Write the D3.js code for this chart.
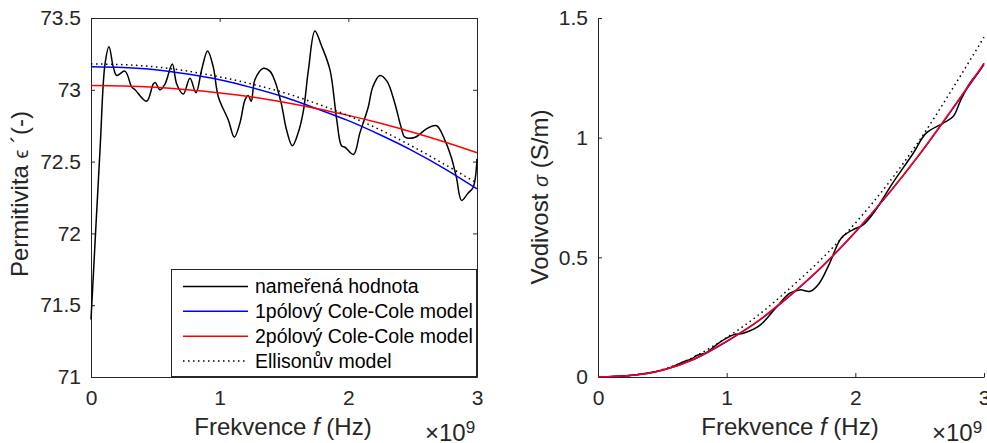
<!DOCTYPE html>
<html>
<head>
<meta charset="utf-8">
<script src="https://cdn.jsdelivr.net/npm/d3@7"></script>
<style>
  body { margin: 0; background: #fff; }
  svg { font-family: "Liberation Sans", Arial, sans-serif; }
  .axis text { font-family: "Liberation Sans", Arial, sans-serif; font-size: 21px; fill: #262626; }
  .axis path, .axis line { stroke: #262626; }
  .label { font-size: 24px; fill: #262626; }
  .legend text { font-size: 19.5px; fill: #000; }
</style>
</head>
<body>
<svg id="chart" width="987" height="443"></svg>
<script>
// frequency in units of 1e9 Hz
const freqTicks = [0, 1, 2, 3]
const freqTickLabels = ["0", "1", "2", "3"]
const epsTicks = [71, 71.5, 72, 72.5, 73, 73.5]
const epsTickLabels = ["71", "71.5", "72", "72.5", "73", "73.5"]
const sigmaTicks = [0, 0.5, 1, 1.5]
const sigmaTickLabels = ["0", "0.5", "1", "1.5"]

const seriesNames = ["nameřená hodnota", "1pólový Cole-Cole model", "2pólový Cole-Cole model", "Ellisonův model"]

const fEpsMeas = [0, 0.07, 0.109, 0.14, 0.173, 0.2, 0.264, 0.316, 0.342, 0.432, 0.484, 0.5, 0.536, 0.575,
  0.632, 0.666, 0.717, 0.769, 0.816, 0.86, 0.906, 0.95, 0.99, 1.067, 1.114, 1.158, 1.197, 1.222, 1.245,
  1.274, 1.34, 1.39, 1.43, 1.48, 1.52, 1.565, 1.61, 1.65, 1.69, 1.74, 1.79, 1.857, 1.91, 1.947, 1.974,
  2.04, 2.09, 2.155, 2.19, 2.245, 2.3, 2.36, 2.41, 2.44, 2.52, 2.61, 2.686, 2.75, 2.8, 2.84, 2.88, 2.93,
  2.97, 3.0]
const epsMeas = [71.40, 72.58, 73.18, 73.30, 73.16, 73.10, 73.13, 73.02, 73.00, 72.92, 73.04, 73.05, 73.00, 73.04,
  73.18, 73.04, 72.97, 73.08, 72.98, 73.14, 73.27, 73.16, 72.95, 72.79, 72.67, 72.77, 72.93, 72.96, 72.92,
  73.07, 73.15, 73.13, 73.06, 72.90, 72.72, 72.61, 72.70, 72.85, 73.14, 73.41, 73.31, 73.14, 72.79, 72.61, 72.60,
  72.55, 72.70, 72.88, 73.02, 73.10, 73.06, 72.91, 72.74, 72.67, 72.67, 72.73, 72.75, 72.65, 72.53, 72.39, 72.23, 72.28,
  72.32, 72.52]

// model curves
const fModel = [0, 0.25, 0.5, 0.75, 1, 1.25, 1.5, 1.75, 2, 2.25, 2.5, 2.75, 3]
const eps1Pole = [73.16, 73.155, 73.14, 73.11, 73.07, 73.015, 72.95, 72.87, 72.785, 72.685, 72.575, 72.45, 72.31]
const eps2Pole = [73.03, 73.027, 73.017, 73.0, 72.978, 72.95, 72.913, 72.87, 72.822, 72.767, 72.705, 72.637, 72.562]
const epsEllison = [73.18, 73.175, 73.16, 73.13, 73.09, 73.04, 72.98, 72.905, 72.82, 72.72, 72.605, 72.48, 72.35]

// measured conductivity
const fSigMeas = [0, 0.2, 0.4, 0.55, 0.676, 0.728, 0.767, 0.845, 0.935, 1.05, 1.13, 1.26, 1.39, 1.49, 1.57,
  1.65, 1.72, 1.8, 1.89, 1.98, 2.06, 2.14, 2.29, 2.45, 2.55, 2.68, 2.76, 2.82, 2.89, 2.97, 3.0]
const sigmaMeas = [0, 0.004, 0.018, 0.037, 0.066, 0.076, 0.09, 0.103, 0.141, 0.176, 0.183, 0.217, 0.294, 0.35, 0.364,
  0.358, 0.392, 0.475, 0.58, 0.615, 0.635, 0.684, 0.81, 0.935, 1.019, 1.06, 1.088, 1.158, 1.228, 1.283, 1.311]
const sigma1Pole = [0, 0.006, 0.028, 0.075, 0.148, 0.235, 0.343, 0.465, 0.605, 0.76, 0.93, 1.115, 1.305]
const sigma2Pole = [0, 0.006, 0.028, 0.075, 0.15, 0.237, 0.345, 0.467, 0.607, 0.762, 0.932, 1.118, 1.31]
const sigmaEllison = [0, 0.007, 0.031, 0.085, 0.165, 0.26, 0.375, 0.5, 0.643, 0.805, 0.99, 1.2, 1.42]

const svg = d3.select("#chart")
const top_ = 18, bottom = 377

var xL = d3.scaleLinear().domain([0, 3]).range([91, 477])
var yL = d3.scaleLinear().domain([71, 73.5]).range([bottom, top_])
var xR = d3.scaleLinear().domain([0, 3]).range([598, 984])
var yR = d3.scaleLinear().domain([0, 1.5]).range([bottom, top_])

function lookup(ticks, labels) {
  return d => labels[ticks.indexOf(d)]
}

function drawAxes(x, y, yTicks, yLabels, box) {
  svg.append("g").attr("class", "axis")
      .attr("transform", "translate(0," + bottom + ")")
      .call(d3.axisBottom(x).tickValues(freqTicks).tickFormat(lookup(freqTicks, freqTickLabels))
        .tickSizeInner(-4).tickSizeOuter(0).tickPadding(13))
  svg.append("g").attr("class", "axis")
      .attr("transform", "translate(" + x.range()[0] + ",0)")
      .call(d3.axisLeft(y).tickValues(yTicks).tickFormat(lookup(yTicks, yLabels))
        .tickSizeInner(-4).tickSizeOuter(0).tickPadding(10))
  if (box) {
    svg.append("g").attr("class", "axis")
        .attr("transform", "translate(0," + top_ + ")")
        .call(d3.axisTop(x).tickValues(freqTicks).tickFormat("").tickSizeInner(-4).tickSizeOuter(0))
    svg.append("g").attr("class", "axis")
        .attr("transform", "translate(" + x.range()[1] + ",0)")
        .call(d3.axisRight(y).tickValues(yTicks).tickFormat("").tickSizeInner(-4).tickSizeOuter(0))
  }
  svg.selectAll(".axis").attr("font-family", null).attr("font-size", null)
}

function drawSeries(x, y, fs, vs, color, dotted, curve) {
  var line = d3.line()
    .x((d, i) => x(fs[i]))
    .y(d => y(d))
    .curve(curve)
  svg.append("path")
    .datum(vs)
    .attr("d", line)
    .attr("fill", "none")
    .attr("stroke", color)
    .attr("stroke-width", 1.5)
    .attr("stroke-dasharray", dotted ? "1.5,3.5" : null)
}

// left panel: permittivity
drawAxes(xL, yL, epsTicks, epsTickLabels, true)
drawSeries(xL, yL, fEpsMeas, epsMeas, "#000", false, d3.curveCatmullRom.alpha(0.5))
drawSeries(xL, yL, fModel, eps1Pole, "#0000ff", false, d3.curveMonotoneX)
drawSeries(xL, yL, fModel, eps2Pole, "#ff0000", false, d3.curveMonotoneX)
drawSeries(xL, yL, fModel, epsEllison, "#000", true, d3.curveMonotoneX)

// right panel: conductivity
drawAxes(xR, yR, sigmaTicks, sigmaTickLabels, false)
drawSeries(xR, yR, fSigMeas, sigmaMeas, "#000", false, d3.curveCatmullRom.alpha(0.5))
drawSeries(xR, yR, fModel, sigmaEllison, "#000", true, d3.curveMonotoneX)
drawSeries(xR, yR, fModel, sigma1Pole, "#0000ff", false, d3.curveMonotoneX)
drawSeries(xR, yR, fModel, sigma2Pole, "#ff0000", false, d3.curveMonotoneX)

// axis labels
function xLabel(x) {
  var t = svg.append("text").attr("class", "label")
    .attr("x", (x.range()[0] + x.range()[1]) / 2 - 1).attr("y", 435)
    .attr("text-anchor", "middle")
  t.append("tspan").text("Frekvence ")
  t.append("tspan").attr("font-style", "italic").text("f")
  t.append("tspan").text(" (Hz)")

  var e = svg.append("text").attr("class", "label")
    .attr("x", x.range()[1] - 52).attr("y", 441).attr("font-size", 21)
  e.append("tspan").text("×10")
  e.append("tspan").attr("font-size", 17).attr("dy", -8).text("9")
}
xLabel(xL)
xLabel(xR)

var yl = svg.append("text").attr("class", "label")
  .attr("transform", "translate(28,194) rotate(-90)")
  .attr("text-anchor", "middle")
yl.append("tspan").text("Permitivita ")
yl.append("tspan").attr("font-size", 20).text("ϵ")
yl.append("tspan").text(" ´(-)")

var yr = svg.append("text").attr("class", "label")
  .attr("transform", "translate(548,197) rotate(-90)")
  .attr("text-anchor", "middle")
yr.append("tspan").text("Vodivost ")
yr.append("tspan").attr("font-size", 20).attr("font-style", "italic").text("σ")
yr.append("tspan").text(" (S/m)")

// legend
var legendColors = ["#000", "#0000ff", "#ff0000", "#000"]
var legend = svg.append("g").attr("class", "legend")
legend.append("rect")
  .attr("x", 171.5).attr("y", 269.5).attr("width", 305).attr("height", 107)
  .attr("fill", "#fff").attr("stroke", "#262626").attr("stroke-width", 1)
var rowY = d3.scaleLinear().domain([0, 3]).range([286.5, 361])
seriesNames.forEach((name, i) => {
  legend.append("line")
    .attr("x1", 183).attr("x2", 248).attr("y1", rowY(i)).attr("y2", rowY(i))
    .attr("stroke", legendColors[i]).attr("stroke-width", 1.5)
    .attr("stroke-dasharray", i == 3 ? "1.5,3.5" : null)
  legend.append("text")
    .attr("x", 255).attr("y", rowY(i)).attr("dy", "0.35em")
    .text(name)
})
</script>
</body>
</html>
